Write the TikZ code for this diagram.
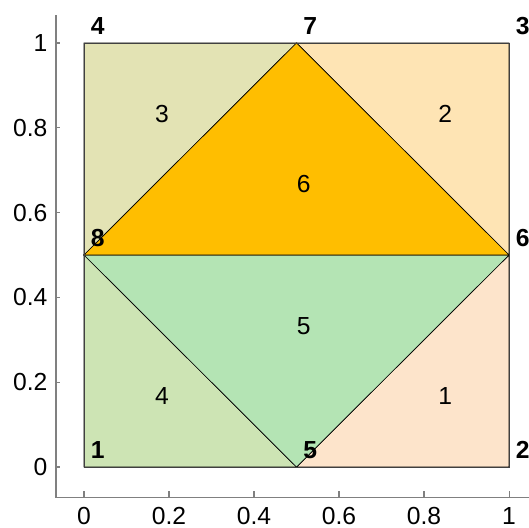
\documentclass[tikz,border=0pt]{standalone}
\usepackage{fontspec}
\setmainfont{Liberation Sans}
\usetikzlibrary{positioning}

\begin{document}
\begin{tikzpicture}[
    x=318.75pt, y=318pt,
    every node/.style={font=\fontsize{18.5}{21}\selectfont, inner sep=0pt},
    vlabel/.style={anchor=west, font=\fontsize{18.5}{21}\selectfont\bfseries},
    elabel/.style={anchor=west},
    face/.style={fill=#1, draw=black, line width=0.5pt},
    axisline/.style={draw=black!50, line width=0.8pt},
  ]
    \definecolor{elem1}{HTML}{FDE4CB}
    \definecolor{elem2}{HTML}{FEE4B4}
    \definecolor{elem3}{HTML}{E3E3B4}
    \definecolor{elem4}{HTML}{CDE4B4}
    \definecolor{elem5}{HTML}{B4E4B4}
    \definecolor{elem6}{HTML}{FFBE00}

    \useasboundingbox (-0.1976,-0.1415) rectangle (1.047,1.1014);

    % mesh vertices
    \coordinate (v1) at (0,0);
    \coordinate (v2) at (1,0);
    \coordinate (v3) at (1,1);
    \coordinate (v4) at (0,1);
    \coordinate (v5) at (0.5,0);
    \coordinate (v6) at (1,0.5);
    \coordinate (v7) at (0.5,1);
    \coordinate (v8) at (0,0.5);

    % elements
    \path[face=elem1] (v5) -- (v2) -- (v6) -- cycle;
    \path[face=elem2] (v6) -- (v3) -- (v7) -- cycle;
    \path[face=elem3] (v7) -- (v4) -- (v8) -- cycle;
    \path[face=elem4] (v8) -- (v1) -- (v5) -- cycle;
    \path[face=elem5] (v5) -- (v6) -- (v8) -- cycle;
    \path[face=elem6] (v6) -- (v7) -- (v8) -- cycle;
    \draw[draw=black!75, line width=0.6pt] (v1) rectangle (v3);

    % element numbers at centroids
    \node[elabel] (e1) at (0.8333,0.1667) {1};
    \node[elabel] (e2) at (0.8333,0.8333) {2};
    \node[elabel] (e3) at (0.1667,0.8333) {3};
    \node[elabel] (e4) at (0.1667,0.1667) {4};
    \node[elabel] (e5) at (0.5,0.3333) {5};
    \node[elabel] (e6) at (0.5,0.6667) {6};

    % vertex numbers
    \foreach \v in {1,...,8}
      \node[vlabel] (n\v) at ([xshift=5pt,yshift=12.5pt]v\v) {\v};

    % axes
    \coordinate (ax0) at (-0.0659,-0.0708);
    \coordinate (axtop) at (-0.0659,1.066);
    \coordinate (axright) at (1.047,-0.0708);
    \draw[axisline] (axtop) -- (ax0) -- (axright);
    \foreach \t/\lbl in {0/0,0.2/0.2,0.4/0.4,0.6/0.6,0.8/0.8,1/1} {
      \draw[axisline] (-0.0659,\t) -- ++(3pt,0);
      \node[anchor=east] (yl\lbl) at (-0.0855,\t) {\lbl};
      \draw[axisline] (\t,-0.0708) -- ++(0,4.5pt);
      \node (xl\lbl) at (\t,-0.1165) {\lbl};
    }
  \end{tikzpicture}
\end{document}
